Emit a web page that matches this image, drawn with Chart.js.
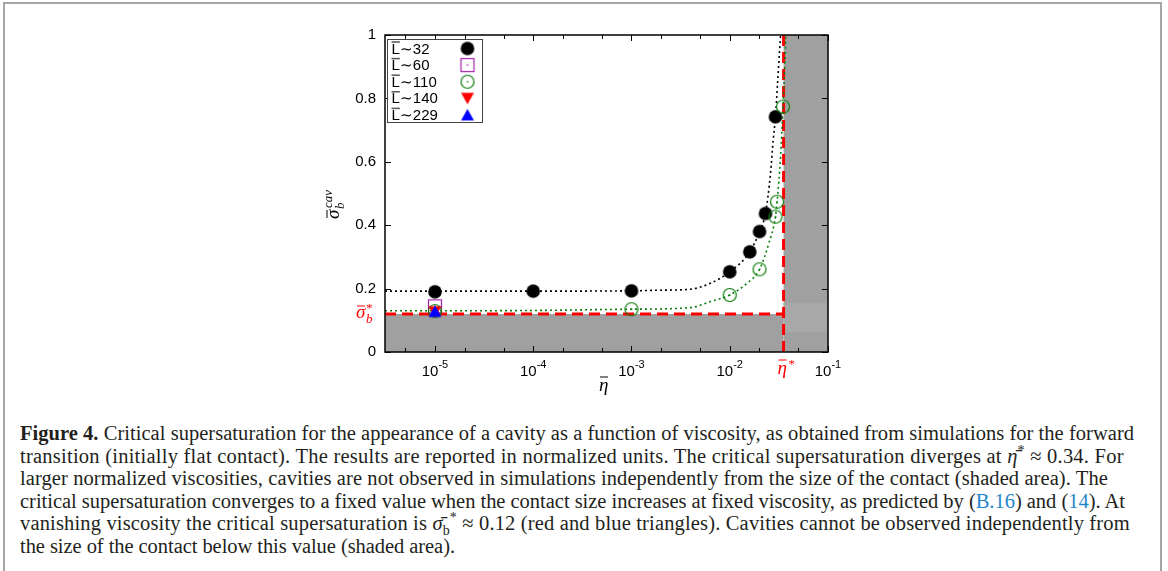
<!DOCTYPE html>
<html>
<head>
<meta charset="utf-8">
<script src="https://cdn.jsdelivr.net/npm/chart.js@4.4.0/dist/chart.umd.min.js"></script>
<style>
html, body { margin: 0; padding: 0; background: #fff; }
body { width: 1168px; height: 571px; overflow: hidden; position: relative; }
#frame { position: absolute; left: 3px; top: 2px; width: 1155px; height: 640px; border: 2px solid #a6a6a6; border-bottom: none; }
#wrap { position: absolute; left: 0; top: 0; width: 1168px; height: 400px; }
#caption { position: absolute; left: 20px; top: 422px; font-family: "Liberation Serif", serif; font-size: 20.5px; line-height: 22.6px; color: #231f20; }
#caption div { white-space: nowrap; }
#caption span.ln { display: inline-block; }
#caption sup, #caption sub { line-height: 0; font-size: 14px; }
.ref { color: #1f87c8; }
</style>
</head>
<body>
<div id="frame"></div>
<div id="wrap"><canvas id="chart" width="1168" height="400"></canvas></div>
<div id="caption">
  <div data-w="1114"><span class="ln"><b>Figure 4.</b> Critical supersaturation for the appearance of a cavity as a function of viscosity, as obtained from simulations for the forward</span></div>
  <div data-w="1104"><span class="ln">transition (initially flat contact). The results are reported in normalized units. The critical supersaturation diverges at <i>η̄</i><sup>*</sup> ≈ 0.34. For</span></div>
  <div data-w="1088"><span class="ln">larger normalized viscosities, cavities are not observed in simulations independently from the size of the contact (shaded area). The</span></div>
  <div data-w="1105"><span class="ln">critical supersaturation converges to a fixed value when the contact size increases at fixed viscosity, as predicted by (<span class="ref">B.16</span>) and (<span class="ref">14</span>). At</span></div>
  <div data-w="1110"><span class="ln">vanishing viscosity the critical supersaturation is <i>σ̄</i><sub>b</sub><sup>*</sup> ≈ 0.12 (red and blue triangles). Cavities cannot be observed independently from</span></div>
  <div data-w="435"><span class="ln">the size of the contact below this value (shaded area).</span></div>
</div>
<script>
// limites et valeurs critiques
const etaMin = 3.1e-6;
const etaMax = 0.1;
const etaStar = 0.0353;
const sigmaStar = 0.12;

// points de simulation
const eta32 = [1e-5, 1e-4, 1e-3, 0.0100, 0.0160, 0.0201, 0.0231, 0.0292];
const sig32 = [0.190, 0.192, 0.193, 0.253, 0.316, 0.380, 0.437, 0.742];
const eta60 = [1e-5];
const sig60 = [0.144];
const eta110 = [1e-5, 1e-3, 0.0100, 0.0201, 0.0292, 0.0303, 0.0348];
const sig110 = [0.129, 0.135, 0.180, 0.261, 0.427, 0.474, 0.774];
const eta140 = [1e-5];
const sig140 = [0.127];
const eta229 = [1e-5];
const sig229 = [0.128];

// courbes d'ajustement (pointillés)
const fitEta32 = [3.1e-6, 1e-5, 1e-4, 1e-3, 0.0020, 0.00397, 0.00636, 0.0100, 0.0160, 0.0201, 0.0231, 0.0260, 0.0277, 0.0292, 0.0308, 0.0329];
const fitSig32 = [0.192, 0.192, 0.192, 0.193, 0.195, 0.198, 0.217, 0.253, 0.316, 0.380, 0.437, 0.564, 0.669, 0.742, 0.858, 1.0];
const fitEta110 = [3.1e-6, 1e-5, 1e-4, 1e-3, 0.00397, 0.00636, 0.0100, 0.01503, 0.0201, 0.0250, 0.0292, 0.0303, 0.0329, 0.0348, 0.0364, 0.0373];
const fitSig110 = [0.130, 0.130, 0.131, 0.135, 0.140, 0.159, 0.180, 0.217, 0.261, 0.343, 0.427, 0.474, 0.616, 0.774, 0.911, 1.0];

// axes
const yTicks = [0, 0.2, 0.4, 0.6, 0.8, 1];
const xMajor = [1e-5, 1e-4, 1e-3, 1e-2, 1e-1];
const xExp = ["-5", "-4", "-3", "-2", "-1"];
const xMinor = [5e-6, 2e-5, 5e-5, 2e-4, 5e-4, 2e-3, 5e-3, 2e-2, 5e-2];
const legendLabels = ["32", "60", "110", "140", "229"];

const green = "#0b7d0b";
const purple = "#a321a8";

function xy(xs, ys) {
  return xs.map((v, i) => ({ x: v, y: ys[i] }));
}

// marqueurs dessinés sur un petit canvas
function marker(kind) {
  const c = document.createElement("canvas");
  c.width = 18; c.height = 18;
  const g = c.getContext("2d");
  const m = 9;
  if (kind === "disc") {
    g.fillStyle = "#000";
    g.beginPath(); g.arc(m, m, 6.8, 0, Math.PI * 2); g.fill();
  } else if (kind === "square") {
    g.strokeStyle = purple; g.lineWidth = 1.2;
    g.strokeRect(m - 6.5, m - 6.5, 13, 13);
    g.fillStyle = purple; g.fillRect(m - 0.7, m - 0.7, 1.4, 1.4);
  } else if (kind === "ring") {
    g.strokeStyle = green; g.lineWidth = 1.2;
    g.beginPath(); g.arc(m, m, 6.5, 0, Math.PI * 2); g.stroke();
    g.fillStyle = green; g.fillRect(m - 0.7, m - 0.7, 1.4, 1.4);
  } else if (kind === "down") {
    g.fillStyle = "#ff0000";
    g.beginPath(); g.moveTo(m - 6.5, m - 5.5); g.lineTo(m + 6.5, m - 5.5); g.lineTo(m, m + 6); g.closePath(); g.fill();
  } else if (kind === "up") {
    g.fillStyle = "#0000ff";
    g.beginPath(); g.moveTo(m - 6.5, m + 5.5); g.lineTo(m + 6.5, m + 5.5); g.lineTo(m, m - 6); g.closePath(); g.fill();
  }
  return c;
}

const markers = [marker("disc"), marker("square"), marker("ring"), marker("down"), marker("up")];

function drawBarred(ctx, ch, x, y, font, color, barLen, barUp) {
  ctx.font = font;
  ctx.fillStyle = color;
  ctx.fillText(ch, x, y);
  ctx.strokeStyle = color;
  ctx.lineWidth = 1;
  ctx.beginPath();
  ctx.moveTo(x + 1, y - barUp);
  ctx.lineTo(x + 1 + barLen, y - barUp);
  ctx.stroke();
}

const figurePlugin = {
  id: "figure",
  beforeDatasetsDraw(chart) {
    const { ctx, chartArea: a, scales: { x, y } } = chart;
    const xs = x.getPixelForValue(etaStar);
    const ys = y.getPixelForValue(sigmaStar);
    ctx.save();
    ctx.fillStyle = "#a0a0a0";
    ctx.fillRect(a.left, ys, xs - a.left, a.bottom - ys);
    ctx.fillRect(xs, a.top, a.right - xs, a.bottom - a.top);
    ctx.fillStyle = "#a8a8a8";
    const y1 = y.getPixelForValue(0.155), y2 = y.getPixelForValue(0.063);
    ctx.fillRect(xs, y1, a.right - xs, y2 - y1);
    ctx.restore();
  },
  afterDatasetsDraw(chart) {
    const { ctx, chartArea: a, scales: { x, y } } = chart;
    ctx.save();
    // cadre + graduations vers l'intérieur
    ctx.strokeStyle = "#000";
    ctx.lineWidth = 1.5;
    ctx.strokeRect(a.left, a.top, a.right - a.left, a.bottom - a.top);
    ctx.lineWidth = 1;
    ctx.beginPath();
    xMajor.forEach(v => {
      const p = Math.round(x.getPixelForValue(v)) + 0.5;
      ctx.moveTo(p, a.bottom); ctx.lineTo(p, a.bottom - 6);
      ctx.moveTo(p, a.top); ctx.lineTo(p, a.top + 6);
    });
    xMinor.forEach(v => {
      const p = Math.round(x.getPixelForValue(v)) + 0.5;
      ctx.moveTo(p, a.bottom); ctx.lineTo(p, a.bottom - 4);
      ctx.moveTo(p, a.top); ctx.lineTo(p, a.top + 4);
    });
    yTicks.forEach(v => {
      const p = Math.round(y.getPixelForValue(v)) + 0.5;
      ctx.moveTo(a.left, p); ctx.lineTo(a.left + 6, p);
      ctx.moveTo(a.right, p); ctx.lineTo(a.right - 6, p);
    });
    ctx.stroke();

    // étiquettes 10^n
    ctx.fillStyle = "#000";
    ctx.textBaseline = "alphabetic";
    xMajor.forEach((v, i) => {
      const p = x.getPixelForValue(v);
      ctx.font = "15px 'Liberation Sans'";
      const w1 = ctx.measureText("10").width;
      ctx.font = "11px 'Liberation Sans'";
      const w2 = ctx.measureText(xExp[i]).width;
      const x0 = p - (w1 + w2) / 2;
      ctx.textAlign = "left";
      ctx.font = "15px 'Liberation Sans'";
      ctx.fillText("10", x0, a.bottom + 24);
      ctx.font = "11px 'Liberation Sans'";
      ctx.fillText(xExp[i], x0 + w1, a.bottom + 16);
    });

    // eta* en rouge sous l'axe
    const xs = x.getPixelForValue(etaStar);
    ctx.textAlign = "left";
    drawBarred(ctx, "η", xs - 6, a.bottom + 22, "italic 19px 'Liberation Serif'", "#ff0000", 8, 14);
    ctx.font = "13px 'Liberation Serif'";
    ctx.fillText("*", xs + 5, a.bottom + 16);

    // sigma_b* en rouge à gauche
    const ys = y.getPixelForValue(sigmaStar);
    drawBarred(ctx, "σ", a.left - 29, ys + 4, "italic 19px 'Liberation Serif'", "#ff0000", 8, 12);
    ctx.font = "italic 13px 'Liberation Serif'";
    ctx.fillText("b", a.left - 19, ys + 9);
    ctx.font = "13px 'Liberation Serif'";
    ctx.fillText("*", a.left - 19, ys - 2);

    // titre de l'axe x
    ctx.fillStyle = "#000";
    drawBarred(ctx, "η", 599, a.bottom + 39, "italic 19px 'Liberation Serif'", "#000", 8, 14);

    // titre de l'axe y (tourné)
    ctx.save();
    ctx.translate(a.left - 46, 199);
    ctx.rotate(-Math.PI / 2);
    drawBarred(ctx, "σ", -20, 0, "italic 19px 'Liberation Serif'", "#000", 8, 12);
    ctx.font = "italic 13px 'Liberation Serif'";
    ctx.fillText("b", -10, 5);
    ctx.fillText("cav", -9, -7);
    ctx.restore();

    // légende
    const lx = a.left + 2.5, ly = a.top + 4.5;
    ctx.fillStyle = "#fff";
    ctx.fillRect(lx, ly, 95, 83);
    ctx.strokeStyle = "#444";
    ctx.lineWidth = 1;
    ctx.strokeRect(lx, ly, 95, 83);
    ctx.textBaseline = "middle";
    legendLabels.forEach((t, i) => {
      const cy = ly + 9 + i * 16.6;
      ctx.fillStyle = "#000";
      ctx.font = "15px 'Liberation Sans'";
      ctx.fillText("L", lx + 4, cy + 1);
      const wl = ctx.measureText("L").width;
      ctx.fillText("∼" + t, lx + 4 + wl, cy + 1);
      ctx.strokeStyle = "#555";
      ctx.lineWidth = 1.5;
      ctx.beginPath();
      ctx.moveTo(lx + 4, cy - 6.5); ctx.lineTo(lx + 4 + wl, cy - 6.5);
      ctx.stroke();
      const mk = markers[i];
      ctx.drawImage(mk, lx + 80 - mk.width / 2, cy - mk.height / 2);
    });
    ctx.restore();
  }
};

const pts = (label, data, mk, order) => ({
  label, data, order,
  pointStyle: markers[mk],
  pointRadius: 7,
  showLine: false
});

const dashed = (data, color, dash, width, order) => ({
  data, order,
  showLine: true,
  borderColor: color,
  borderDash: dash,
  borderWidth: width,
  pointRadius: 0,
  fill: false
});

const fit32 = dashed(xy(fitEta32, fitSig32), "#000", [2, 3], 1.6, 7);
const fit110 = dashed(xy(fitEta110, fitSig110), green, [2, 3], 1.6, 6);
fit32.cubicInterpolationMode = "monotone";
fit110.cubicInterpolationMode = "monotone";

new Chart(document.getElementById("chart"), {
  type: "scatter",
  data: {
    datasets: [
      pts("L~229", xy(eta229, sig229), 4, 1),
      pts("L~140", xy(eta140, sig140), 3, 2),
      pts("L~110", xy(eta110, sig110), 2, 3),
      pts("L~60", xy(eta60, sig60), 1, 4),
      pts("L~32", xy(eta32, sig32), 0, 5),
      fit110,
      fit32,
      dashed([{ x: etaMin, y: sigmaStar }, { x: etaStar, y: sigmaStar }], "#ff0000", [11, 6], 3, 8),
      dashed([{ x: etaStar, y: 0 }, { x: etaStar, y: 1 }], "#ff0000", [11, 6], 3, 9)
    ]
  },
  options: {
    responsive: false,
    animation: false,
    events: [],
    layout: { padding: { left: 325, right: 340, top: 35, bottom: 48 } },
    plugins: { legend: { display: false }, tooltip: { enabled: false } },
    scales: {
      x: {
        type: "logarithmic",
        min: etaMin,
        max: etaMax,
        display: false
      },
      y: {
        min: 0,
        max: 1,
        grid: { display: false, drawTicks: false },
        border: { display: false },
        ticks: {
          stepSize: 0.2,
          color: "#000",
          padding: 9,
          font: { family: "Liberation Sans", size: 15 },
          callback: v => String(Number(v.toFixed(1)))
        },
        afterFit: s => { s.width = 60; }
      }
    }
  },
  plugins: [figurePlugin]
});

// justification approximative des lignes de la légende (espacement des lettres)
document.querySelectorAll("#caption div[data-w]").forEach(d => {
  const span = d.querySelector(".ln");
  const w = span.getBoundingClientRect().width;
  const n = span.textContent.length;
  const target = Number(d.dataset.w);
  span.style.letterSpacing = ((target - w) / n).toFixed(3) + "px";
});
</script>
</body>
</html>
